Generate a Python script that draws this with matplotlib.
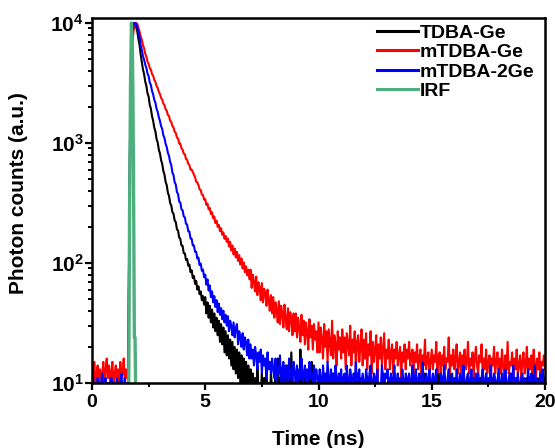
import numpy as np
import matplotlib
matplotlib.use("Agg")
import matplotlib.pyplot as plt
from matplotlib.ticker import MultipleLocator, LogLocator, NullFormatter

# ---------------- data ----------------
dt = 0.05  # ns per channel; each row below covers 1 ns (20 channels)

tdba_ge = [
    7, 9, 6, 8, 10, 7, 9, 6, 8, 10, 7, 8, 9, 6, 10, 8, 7, 9, 6, 8,
    9, 7, 8, 10, 6, 9, 7, 8, 9, 7, 8, 6, 9, 250, 2500, 5500, 8500, 10000, 10000, 9200,
    8500, 7350, 6550, 5450, 4750, 4100, 3750, 3250, 3000, 2600, 2430, 2080, 1930, 1670, 1530, 1340, 1250, 1080, 1010, 880,
    820, 720, 670, 585, 545, 475, 445, 385, 362, 316, 301, 265, 257, 226, 219, 191, 186, 163, 159, 140,
    139, 121, 120, 106, 108, 95, 97, 84, 87, 75, 78, 67, 71, 60, 64, 55, 58, 49, 53, 45,
    52, 38, 47, 35, 44, 32, 41, 29, 38, 27, 35, 25, 33, 22, 31, 21, 29, 18, 27, 17,
    25, 16, 23, 14, 22, 13, 20, 12, 19, 11, 18, 10, 17, 9, 16, 8, 15, 9, 14, 7,
    13, 8, 12, 9, 11, 7, 14, 9, 10, 8, 12, 7, 11, 9, 13, 8, 10, 7, 12, 9,
    10, 7, 13, 8, 16, 9, 11, 7, 12, 8, 10, 9, 14, 7, 11, 8, 18, 9, 10, 7,
    12, 8, 10, 7, 19, 9, 11, 8, 13, 7, 10, 9, 12, 8, 15, 7, 11, 9, 10, 8,
    11, 8, 9, 7, 12, 9, 10, 8, 11, 7, 9, 10, 8, 12, 7, 9, 11, 8, 10, 7,
    9, 11, 8, 10, 7, 12, 9, 8, 10, 7, 11, 9, 8, 10, 12, 7, 9, 8, 11, 9,
    8, 10, 7, 9, 11, 8, 12, 9, 7, 10, 8, 11, 9, 7, 10, 8, 9, 12, 8, 10,
    7, 9, 11, 8, 10, 7, 9, 12, 8, 9, 11, 7, 10, 8, 9, 11, 7, 10, 9, 8,
    10, 8, 9, 12, 7, 10, 8, 9, 11, 8, 7, 10, 9, 12, 8, 9, 7, 11, 8, 10,
    9, 7, 10, 8, 11, 9, 12, 7, 9, 10, 8, 11, 7, 9, 10, 8, 12, 9, 7, 10,
    8, 11, 9, 7, 10, 8, 9, 11, 7, 10, 9, 8, 12, 7, 9, 10, 8, 11, 9, 7,
    10, 9, 7, 11, 8, 10, 9, 7, 12, 8, 9, 10, 8, 7, 11, 9, 10, 8, 7, 12,
    9, 8, 10, 7, 9, 11, 8, 10, 9, 7, 12, 8, 9, 10, 7, 11, 8, 9, 10, 8,
    7, 10, 9, 8, 11, 7, 9, 10, 8, 12, 9, 7, 10, 8, 9, 11, 8, 7, 10, 9,
    8,
]

mtdba_ge = [
    13, 9, 15, 10, 12, 14, 8, 13, 11, 12, 15, 9, 13, 16, 11, 14, 10, 12, 15, 9,
    12, 14, 10, 13, 9, 15, 11, 12, 16, 10, 13, 11, 11, 240, 2500, 5000, 7500, 9000, 9800, 10000,
    9800, 9050, 8500, 7700, 7250, 6550, 6150, 5550, 5250, 4750, 4580, 4220, 4080, 3750, 3640, 3350, 3240, 2980, 2890, 2660,
    2560, 2380, 2300, 2130, 2070, 1910, 1860, 1710, 1680, 1530, 1500, 1380, 1350, 1240, 1210, 1110, 1090, 990, 990, 905,
    880, 815, 805, 735, 725, 670, 655, 600, 600, 575, 545, 520, 475, 470, 445, 410, 405, 372, 368, 338,
    340, 305, 312, 280, 288, 256, 265, 236, 244, 215, 226, 200, 208, 184, 195, 172, 180, 159, 168, 150,
    160, 137, 150, 127, 140, 118, 132, 111, 124, 104, 116, 97, 109, 90, 101, 84, 94, 79, 88, 73,
    88, 62, 80, 70, 58, 77, 54, 69, 63, 49, 68, 47, 61, 56, 44, 60, 50, 40, 54, 38,
    52, 35, 47, 41, 32, 48, 31, 44, 38, 29, 45, 34, 28, 42, 27, 39, 35, 25, 38, 27,
    38, 24, 35, 29, 22, 37, 25, 33, 21, 32, 27, 19, 34, 24, 30, 19, 31, 23, 27, 18,
    32, 18, 29, 23, 16, 31, 20, 27, 15, 28, 22, 17, 33, 16, 25, 21, 14, 27, 19, 24,
    16, 28, 18, 24, 13, 26, 21, 17, 30, 14, 23, 18, 27, 13, 22, 25, 15, 20, 28, 14,
    23, 16, 26, 13, 21, 17, 27, 12, 22, 15, 19, 25, 11, 21, 16, 24, 14, 19, 26, 13,
    19, 16, 23, 13, 18, 21, 12, 19, 16, 22, 14, 17, 20, 11, 18, 15, 21, 13, 19, 16,
    22, 14, 17, 19, 12, 18, 15, 21, 13, 16, 19, 11, 17, 14, 23, 13, 16, 18, 12, 15,
    19, 13, 17, 15, 22, 12, 16, 18, 11, 17, 14, 20, 13, 16, 15, 24, 12, 17, 14, 19,
    13, 16, 21, 12, 15, 18, 11, 17, 14, 19, 13, 15, 22, 12, 16, 14, 18, 11, 16, 20,
    14, 12, 17, 15, 21, 11, 16, 13, 19, 12, 15, 17, 10, 16, 14, 20, 12, 15, 18, 13,
    16, 12, 19, 14, 11, 17, 13, 22, 12, 15, 14, 18, 11, 16, 13, 19, 12, 14, 17, 11,
    15, 18, 12, 14, 20, 11, 16, 13, 17, 12, 19, 14, 11, 16, 13, 18, 12, 15, 14, 17,
    13,
]

mtdba_2ge = [
    9, 11, 8, 10, 7, 11, 9, 8, 10, 12, 8, 9, 11, 7, 10, 9, 8, 11, 10, 7,
    10, 8, 11, 9, 7, 10, 12, 8, 9, 11, 8, 10, 9, 280, 3000, 6000, 8800, 9800, 10000, 9900,
    9300, 8450, 7650, 6550, 5950, 5300, 4950, 4500, 4220, 3800, 3600, 3200, 3030, 2720, 2540, 2290, 2160, 1930, 1820, 1640,
    1530, 1380, 1310, 1160, 1100, 985, 925, 830, 780, 695, 655, 565, 540, 470, 450, 390, 375, 325, 318, 280,
    275, 245, 240, 212, 209, 184, 183, 160, 159, 140, 140, 124, 124, 109, 111, 96, 99, 86, 88, 76,
    80, 66, 73, 59, 65, 52, 58, 47, 53, 43, 49, 39, 46, 37, 42, 34, 40, 32, 37, 30,
    36, 27, 33, 30, 25, 32, 24, 29, 31, 21, 27, 24, 20, 26, 19, 24, 22, 17, 23, 16,
    21, 16, 19, 14, 20, 17, 13, 18, 15, 19, 12, 17, 14, 16, 11, 18, 13, 15, 12, 16,
    13, 11, 16, 10, 14, 12, 17, 9, 13, 15, 10, 14, 12, 9, 16, 11, 13, 10, 15, 12,
    10, 14, 8, 13, 11, 16, 9, 12, 14, 10, 13, 8, 15, 11, 12, 9, 14, 10, 13, 11,
    9, 13, 11, 8, 14, 10, 12, 9, 15, 11, 8, 13, 10, 12, 9, 14, 11, 8, 12, 10,
    13, 9, 11, 12, 8, 14, 10, 9, 13, 11, 8, 12, 10, 15, 9, 11, 13, 8, 10, 12,
    10, 8, 13, 11, 9, 12, 14, 8, 10, 12, 9, 11, 13, 8, 10, 9, 14, 11, 8, 12,
    11, 13, 9, 10, 12, 8, 11, 14, 9, 10, 12, 8, 11, 9, 13, 10, 8, 12, 11, 9,
    12, 9, 10, 14, 8, 11, 13, 9, 10, 12, 8, 11, 15, 9, 10, 12, 8, 11, 13, 9,
    10, 12, 8, 11, 13, 9, 10, 8, 12, 11, 9, 14, 10, 8, 11, 13, 9, 10, 12, 8,
    11, 9, 13, 10, 8, 12, 11, 9, 14, 10, 8, 11, 12, 9, 10, 13, 8, 11, 9, 12,
    9, 12, 10, 8, 11, 13, 9, 10, 12, 8, 11, 9, 14, 10, 8, 12, 11, 9, 10, 13,
    10, 8, 12, 11, 9, 13, 10, 8, 11, 12, 9, 10, 14, 8, 11, 9, 12, 10, 8, 11,
    12, 9, 11, 10, 8, 13, 9, 11, 12, 8, 10, 14, 9, 11, 10, 8, 12, 9, 13, 10,
    11,
]

irf_time = [1.62, 1.66, 1.70, 1.74, 1.78, 1.81, 1.84, 1.87, 1.90, 1.93]
irf_counts = [8, 300, 3000, 10000, 7000, 2200, 290, 24, 24, 8]

series_labels = ["TDBA-Ge", "mTDBA-Ge", "mTDBA-2Ge", "IRF"]
series_colors = ["#000000", "#ff0000", "#0000ff", "#4caf7d"]

xticks = [0, 5, 10, 15, 20]
yticks = [10, 100, 1000, 10000]
ytick_labels = [r"$\mathbf{10^{1}}$", r"$\mathbf{10^{2}}$",
                r"$\mathbf{10^{3}}$", r"$\mathbf{10^{4}}$"]

# ---------------- style ----------------
plt.rcParams["font.family"] = ["Liberation Sans", "DejaVu Sans"]
plt.rcParams["font.weight"] = "bold"
plt.rcParams["mathtext.fontset"] = "custom"
plt.rcParams["mathtext.rm"] = "Liberation Sans:bold"
plt.rcParams["mathtext.bf"] = "Liberation Sans:bold"
plt.rcParams["mathtext.it"] = "Liberation Sans:bold"

fig = plt.figure(figsize=(5.55, 4.48), dpi=100)
ax = fig.add_axes([92 / 555, 1 - 383 / 448, (545 - 92) / 555, (383 - 18) / 448])

decays = [tdba_ge, mtdba_ge, mtdba_2ge]
for vals, lab, col in zip(decays, series_labels[:3], series_colors[:3]):
    t = np.arange(len(vals)) * dt
    ax.plot(t, vals, color=col, lw=1.5, label=lab)
ax.plot(irf_time, irf_counts, color=series_colors[3], lw=2.4, label=series_labels[3])

ax.set_yscale("log")
ax.set_xlim(0, 20)
ax.set_ylim(10, 10 ** (4 + 5 / 120))

ax.set_xticks(xticks)
ax.set_xticklabels([str(v) for v in xticks])
ax.xaxis.set_minor_locator(MultipleLocator(2.5))
ax.set_yticks(yticks)
ax.set_yticklabels(ytick_labels)
ax.yaxis.set_minor_locator(LogLocator(base=10, subs=np.arange(2, 10)))
ax.yaxis.set_minor_formatter(NullFormatter())

ax.tick_params(axis="both", which="major", direction="out", length=5, width=1.6, pad=3)
ax.tick_params(axis="x", which="major", labelsize=14)
ax.tick_params(axis="y", which="major", labelsize=15, pad=1)
ax.tick_params(axis="both", which="minor", direction="out", length=3, width=1.4)

for s in ax.spines.values():
    s.set_linewidth(1.8)

ax.set_xlabel("Time (ns)", fontsize=15, fontweight="bold")
ax.xaxis.set_label_coords(0.5, (383 - 430) / 365)
ax.set_ylabel("Photon counts (a.u.)", fontsize=15, fontweight="bold")
ax.yaxis.set_label_coords((28 - 92) / 453, 0.52)

leg = ax.legend(loc="upper left", bbox_to_anchor=(377 / 555, 1 - 24 / 448),
                bbox_transform=fig.transFigure, frameon=False, fontsize=14,
                handlelength=2.1, handletextpad=0.1, labelspacing=0.1,
                borderpad=0, borderaxespad=0)
for h in leg.legend_handles:
    h.set_linewidth(2.2)

fig.savefig("out.png", dpi=100)
